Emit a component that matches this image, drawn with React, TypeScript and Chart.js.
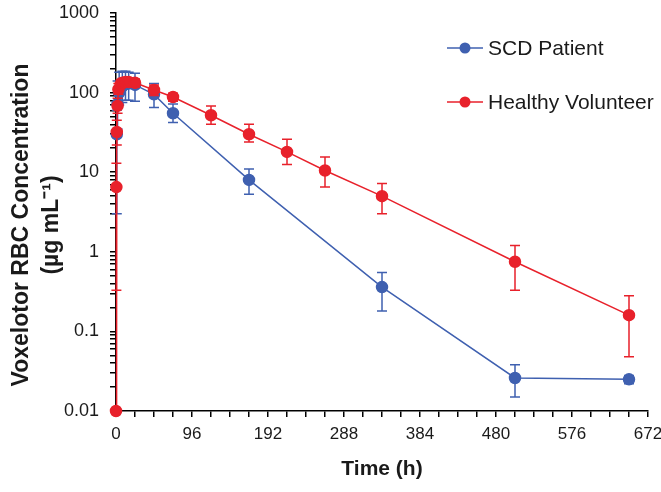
import React, { useEffect, useRef } from 'react';
import { Chart, registerables } from 'chart.js';

Chart.register(...registerables);

// ---- data ----
const scdTime = [1, 2, 4, 8, 12, 16, 24, 48, 72, 168, 336, 504, 648];
const scdConc = [30, 72, 100, 120, 128, 130, 125, 95, 55, 8, 0.36, 0.026, 0.025];
const scdUpper = [60, 140, 180, 185, 185, 180, 175, 130, 72, 11, 0.55, 0.038, 0.028];
const scdLower = [3, 35, 70, 75, 80, 80, 78, 65, 42, 5.3, 0.18, 0.015, 0.022];

const hvTime = [0, 0.5, 1, 2, 3, 6, 8, 12, 16, 24, 48, 72, 120, 168, 216, 264, 336, 504, 648];
const hvConc = [0.01, 6.5, 32, 68, 110, 128, 133, 136, 136, 133, 108, 88, 52, 30, 18, 10.5, 5, 0.75, 0.16];
const hvUpper = [0.01, 13, 45, 85, 130, 145, 150, 150, 150, 148, 125, 98, 68, 40, 26, 15.5, 7.2, 1.2, 0.28];
const hvLower = [0.01, 0.33, 22, 55, 95, 115, 118, 120, 122, 118, 92, 78, 40, 24, 12.5, 6.5, 3, 0.33, 0.048];

const xTicks = [0, 24, 48, 72, 96, 120, 144, 168, 192, 216, 240, 264, 288, 312, 336, 360, 384, 408, 432, 456, 480, 504, 528, 552, 576, 600, 624, 648, 672];
const xLabelStep = 96;
const yMajor = [0.01, 0.1, 1, 10, 100, 1000];
const seriesNames = ['SCD Patient', 'Healthy Volunteer'];
const yTitleLines = ['Voxelotor RBC Concentration', '(µg mL⁻¹)'];
const xTitle = 'Time (h)';

const BLUE = '#3F60B0';
const RED = '#E8212B';
const FONT = "'Liberation Sans', Arial, Helvetica, sans-serif";

const yTicks: number[] = [];
yMajor.forEach((m, i) => {
  if (i === yMajor.length - 1) { yTicks.push(m); return; }
  for (let k = 1; k <= 9; k++) yTicks.push(parseFloat((k * m).toPrecision(3)));
});

const toXY = (t: number[], v: number[]) => t.map((x, i) => ({ x, y: v[i] }));

const errorBarPlugin = {
  id: 'errorBars',
  beforeDatasetDraw(chart: any, args: any) {
    const ds = chart.data.datasets[args.index];
    if (!ds.upper) return;
    const ctx = chart.ctx;
    const ys = chart.scales.y;
    ctx.save();
    ctx.strokeStyle = ds.borderColor;
    ctx.lineWidth = 1.5;
    args.meta.data.forEach((pt: any, i: number) => {
      const yu = ys.getPixelForValue(ds.upper[i]);
      const yl = ys.getPixelForValue(ds.lower[i]);
      if (Math.abs(yu - yl) < 1) return;
      const x = pt.x;
      ctx.beginPath();
      ctx.moveTo(x, yu); ctx.lineTo(x, yl);
      ctx.moveTo(x - 5, yu); ctx.lineTo(x + 5, yu);
      ctx.moveTo(x - 5, yl); ctx.lineTo(x + 5, yl);
      ctx.stroke();
    });
    ctx.restore();
  },
};

const titleLegendPlugin = {
  id: 'titleLegend',
  afterDraw(chart: any) {
    const ctx = chart.ctx;
    ctx.save();
    // y-axis title
    ctx.fillStyle = '#1a1a1a';
    ctx.font = `bold 23px ${FONT}`;
    ctx.textAlign = 'center';
    ctx.textBaseline = 'middle';
    yTitleLines.forEach((line, i) => {
      ctx.save();
      ctx.translate(22 + i * 30, 225);
      ctx.rotate(-Math.PI / 2);
      ctx.fillText(line, 0, 0);
      ctx.restore();
    });
    // legend
    const items = [
      { label: seriesNames[0], color: BLUE, y: 48 },
      { label: seriesNames[1], color: RED, y: 102 },
    ];
    items.forEach((it) => {
      ctx.strokeStyle = it.color;
      ctx.lineWidth = 1.5;
      ctx.beginPath();
      ctx.moveTo(447, it.y); ctx.lineTo(483, it.y);
      ctx.stroke();
      ctx.fillStyle = it.color;
      ctx.beginPath();
      ctx.arc(465, it.y, 5.5, 0, Math.PI * 2);
      ctx.fill();
      ctx.fillStyle = '#1a1a1a';
      ctx.font = `21px ${FONT}`;
      ctx.textBaseline = 'middle';
      ctx.textAlign = 'left';
      ctx.fillText(it.label, 488, it.y + 1);
    });
    ctx.restore();
  },
};

export default function App() {
  const ref = useRef<HTMLCanvasElement | null>(null);
  useEffect(() => {
    if (!ref.current) return;
    const chart = new Chart(ref.current, {
      type: 'scatter',
      data: {
        datasets: [
          {
            label: seriesNames[1],
            data: toXY(hvTime, hvConc),
            upper: hvUpper,
            lower: hvLower,
            borderColor: RED,
            backgroundColor: RED,
            pointBackgroundColor: RED,
            pointBorderColor: RED,
            pointRadius: 5.5,
            borderWidth: 1.5,
            showLine: true,
            clip: false,
            order: 0,
          } as any,
          {
            label: seriesNames[0],
            data: toXY(scdTime, scdConc),
            upper: scdUpper,
            lower: scdLower,
            borderColor: BLUE,
            backgroundColor: BLUE,
            pointBackgroundColor: BLUE,
            pointBorderColor: BLUE,
            pointRadius: 5.5,
            borderWidth: 1.5,
            showLine: true,
            clip: false,
            order: 1,
          } as any,
        ],
      },
      options: {
        animation: false,
        responsive: false,
        maintainAspectRatio: false,
        layout: { padding: { left: 0, right: 13, top: 13, bottom: 0 } },
        plugins: { legend: { display: false }, tooltip: { enabled: false } },
        scales: {
          x: {
            type: 'linear',
            min: 0,
            max: 672,
            afterBuildTicks: (s: any) => { s.ticks = xTicks.map((v) => ({ value: v })); },
            afterFit: (s: any) => { s.height = 81; s.paddingLeft = 0; s.paddingRight = 0; },
            ticks: {
              autoSkip: false,
              maxRotation: 0,
              padding: 7,
              color: '#1a1a1a',
              font: { size: 17, family: FONT },
              callback: (v: any) => (Number(v) % xLabelStep === 0 ? String(v) : ''),
            },
            grid: { drawOnChartArea: false, tickLength: 6, color: '#000', lineWidth: 1.5 },
            border: { color: '#000', width: 1.5 },
            title: {
              display: true,
              text: xTitle,
              color: '#1a1a1a',
              font: { size: 21, weight: 'bold', family: FONT },
              padding: { top: 0, bottom: 10 },
            },
          },
          y: {
            type: 'logarithmic',
            min: 0.01,
            max: 1000,
            afterBuildTicks: (s: any) => { s.ticks = yTicks.map((v) => ({ value: v })); },
            afterFit: (s: any) => { s.width = 116; s.paddingTop = 0; s.paddingBottom = 0; },
            ticks: {
              autoSkip: false,
              padding: 11,
              color: '#1a1a1a',
              font: { size: 18, family: FONT },
              callback: (v: any) => (yMajor.includes(Number(v)) ? String(v) : ''),
            },
            grid: { drawOnChartArea: false, tickLength: 6, color: '#000', lineWidth: 1.5 },
            border: { color: '#000', width: 1.5 },
            title: { display: false },
          },
        },
      } as any,
      plugins: [errorBarPlugin, titleLegendPlugin],
    });
    return () => chart.destroy();
  }, []);
  return (
    <div style={{ position: 'absolute', left: 0, top: 0, width: 661, height: 492, background: '#fff' }}>
      <canvas ref={ref} width={661} height={492} style={{ display: 'block' }} />
    </div>
  );
}
